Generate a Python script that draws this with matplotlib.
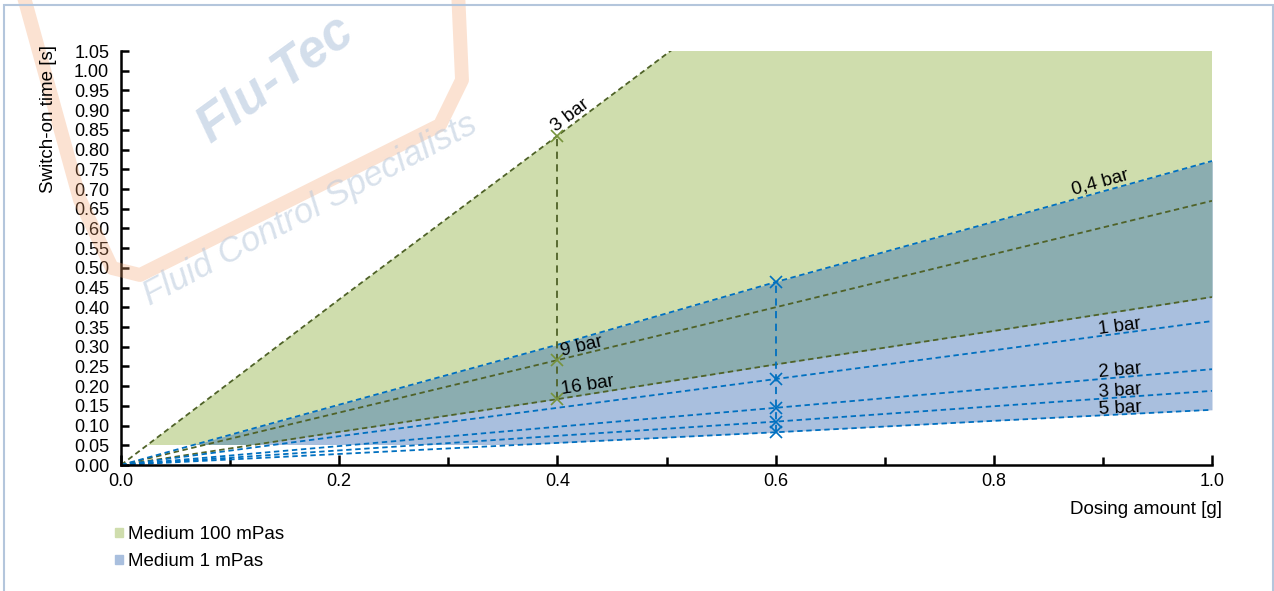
import matplotlib
matplotlib.use("Agg")
import matplotlib.pyplot as plt
import numpy as np
from matplotlib.patches import Patch, Rectangle
from matplotlib.lines import Line2D

# dosing amount [g] where the curves were read
dose = [0.0, 0.2, 0.4, 0.6, 0.8, 1.0]

# Medium 100 mPas (green)
m100_3bar = [0.0, 0.42, 0.835, 1.25, 1.67, 2.09]
m100_9bar = [0.0, 0.133, 0.266, 0.40, 0.535, 0.67]
m100_16bar = [0.0, 0.084, 0.167, 0.255, 0.34, 0.426]

# Medium 1 mPas (blue)
m1_04bar = [0.0, 0.153, 0.305, 0.464, 0.617, 0.771]
m1_1bar = [0.0, 0.073, 0.145, 0.218, 0.291, 0.365]
m1_2bar = [0.0, 0.048, 0.097, 0.145, 0.194, 0.243]
m1_3bar = [0.0, 0.037, 0.074, 0.110, 0.149, 0.188]
m1_5bar = [0.0, 0.028, 0.056, 0.083, 0.112, 0.140]

green_series = [("3 bar", m100_3bar), ("9 bar", m100_9bar), ("16 bar", m100_16bar)]
blue_series = [("0,4 bar", m1_04bar), ("1 bar", m1_1bar), ("2 bar", m1_2bar),
               ("3 bar", m1_3bar), ("5 bar", m1_5bar)]

green_mark_x = 0.4
blue_mark_x = 0.6

GREEN_FILL = "#cfddad"
BLUE_FILL = "#a9bfde"
OVERLAP_FILL = "#8badb0"
GREEN_LINE = "#4f6228"
GREEN_MARK = "#77933c"
BLUE_LINE = "#0070c0"

plt.rcParams["font.family"] = ["Liberation Sans", "DejaVu Sans"]

W, H = 1274, 591
fig = plt.figure(figsize=(W / 100, H / 100), dpi=100)
ax = fig.add_axes([121 / W, 1 - 465 / H, (1212 - 121) / W, (465 - 51) / H])


def px(x, y):
    # figure pixel -> figure fraction
    return x / W, 1 - y / H


# -----------------------
# frame + watermark
# -----------------------
fig.patches.append(Rectangle(px(4, 596), (1273 - 4) / W, (596 - 5) / H,
                             transform=fig.transFigure, fill=False,
                             edgecolor="#b4c6dc", linewidth=1.5, zorder=0))
wm_x = np.array([22, 80, 112, 140, 440, 462, 458])
wm_y = np.array([-10, 200, 268, 275, 125, 80, -10])
fig.lines.append(Line2D(wm_x / W, 1 - wm_y / H, transform=fig.transFigure,
                        color="#f4a06a", alpha=0.3, linewidth=10,
                        solid_joinstyle="round", zorder=0))
fig.text(*px(275, 80), "Flu-Tec", fontsize=37, fontweight="bold", style="italic",
         rotation=36, color="#9db6d4", alpha=0.45, ha="center", va="center", zorder=0)
fig.text(*px(310, 210), "Fluid Control Specialists", fontsize=25, style="italic",
         rotation=28, color="#b9c9dc", alpha=0.55, ha="center", va="center", zorder=0)
ax.patch.set_alpha(0)

# -----------------------
# filled areas
# -----------------------
ax.fill_between(dose, m100_16bar, m100_3bar, color=GREEN_FILL, linewidth=0, zorder=1)
ax.fill_between(dose, m1_5bar, m1_04bar, color=BLUE_FILL, linewidth=0, zorder=1)
ax.fill_between(dose, m100_16bar, m1_04bar, color=OVERLAP_FILL, linewidth=0, zorder=1)
# fills are not drawn below 0.05 s
ax.axhspan(0, 0.05, color="white", linewidth=0, zorder=2)

# -----------------------
# lines
# -----------------------
for name, vals in green_series:
    ax.plot(dose, vals, color=GREEN_LINE, linestyle=(0, (3, 2)), linewidth=1.3, zorder=3)
for name, vals in blue_series:
    ax.plot(dose, vals, color=BLUE_LINE, linestyle=(0, (3, 2)), linewidth=1.3, zorder=3)

# vertical connectors with markers
g_at = [np.interp(green_mark_x, dose, v) for _, v in green_series]
b_at = [np.interp(blue_mark_x, dose, v) for _, v in blue_series]
ax.plot([green_mark_x, green_mark_x], [min(g_at), max(g_at)], color=GREEN_LINE,
        linestyle=(0, (4, 3)), linewidth=1.3, zorder=3)
ax.plot([green_mark_x] * len(g_at), g_at, "x", color=GREEN_MARK, markersize=8,
        markeredgewidth=1.2, zorder=4)
ax.plot([blue_mark_x, blue_mark_x], [min(b_at), max(b_at)], color=BLUE_LINE,
        linestyle=(0, (4, 3)), linewidth=1.3, zorder=3)
ax.plot([blue_mark_x] * len(b_at), b_at, "x", color=BLUE_LINE, markersize=8,
        markeredgewidth=1.2, zorder=4)

# -----------------------
# line labels
# -----------------------
def label(text, x, vals, dy):
    y = np.interp(x, dose, vals)
    slope = (vals[-1] - vals[0]) / (dose[-1] - dose[0])
    ax.text(x, y + dy, text, fontsize=13.5, rotation=np.degrees(np.arctan(slope)),
            transform_rotates_text=True, rotation_mode="anchor",
            ha="left", va="baseline", zorder=5)


label("3 bar", 0.399, m100_3bar, 0.012)
label("9 bar", 0.404, m100_9bar, 0.007)
label("16 bar", 0.404, m100_16bar, 0.012)
label("0,4 bar", 0.873, m1_04bar, 0.012)
label("1 bar", 0.896, m1_1bar, 0.006)
label("2 bar", 0.896, m1_2bar, 0.006)
label("3 bar", 0.896, m1_3bar, 0.006)
label("5 bar", 0.896, m1_5bar, 0.005)

# -----------------------
# axes
# -----------------------
ax.set_axisbelow(False)
ax.set_xlim(0, 1.0)
ax.set_ylim(0, 1.05)
ax.set_xticks(np.arange(0, 1.01, 0.2))
ax.set_xticks(np.arange(0.1, 1.0, 0.2), minor=True)
ax.set_xticklabels([f"{v:.1f}" for v in np.arange(0, 1.01, 0.2)])
ax.set_yticks(np.arange(0, 1.051, 0.05))
ax.set_yticklabels([f"{v:.2f}" for v in np.arange(0, 1.051, 0.05)])
ax.tick_params(axis="both", which="both", direction="in", width=1.8, labelsize=13)
ax.tick_params(axis="y", length=6, pad=8.5)
ax.tick_params(axis="x", which="major", length=7, pad=6)
ax.tick_params(axis="x", which="minor", length=6)
for side in ["top", "right"]:
    ax.spines[side].set_visible(False)
for side in ["left", "bottom"]:
    ax.spines[side].set_linewidth(1.8)
    ax.spines[side].set_zorder(6)

fig.text(*px(49, 45), "Switch-on time [s]", rotation=90, fontsize=13.5,
         ha="center", va="top")
fig.text(*px(1222, 510), "Dosing amount [g]", fontsize=13.5, ha="right", va="center")

handles = [Patch(color=GREEN_FILL, label="Medium 100 mPas"),
           Patch(color=BLUE_FILL, label="Medium 1 mPas")]
fig.legend(handles=handles, loc="upper left", bbox_to_anchor=px(115, 526),
           frameon=False, fontsize=13.5, handlelength=0.4, handleheight=0.4,
           handletextpad=0.3, labelspacing=0.55, borderpad=0, borderaxespad=0)

fig.savefig("out.png", dpi=100)
